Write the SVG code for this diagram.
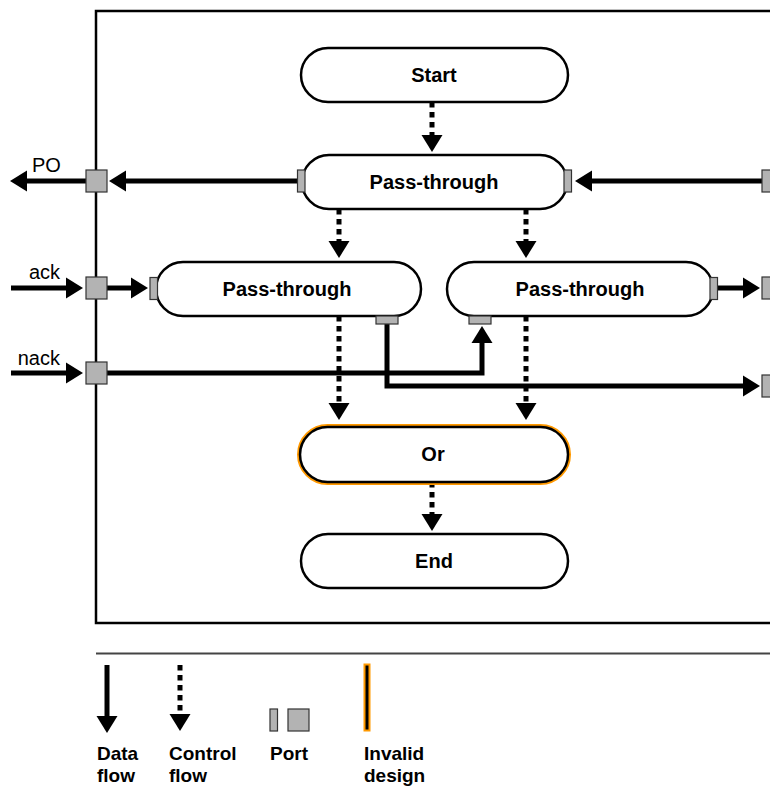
<svg xmlns="http://www.w3.org/2000/svg" width="770" height="787" viewBox="0 0 770 787">
<style>
.node{fill:#fff;stroke:#000;stroke-width:2.5}
.port{fill:#b3b3b3;stroke:#333;stroke-width:1.2}
.lbl{font-family:"Liberation Sans",Arial,sans-serif;font-size:20px;font-weight:bold;fill:#000}
.leg{font-family:"Liberation Sans",Arial,sans-serif;font-size:19px;font-weight:bold;fill:#000}
.io{font-family:"Liberation Sans",Arial,sans-serif;font-size:20px;fill:#000}
.data{fill:none;stroke:#000;stroke-width:5;marker-end:url(#ah)}
.ctrl{fill:none;stroke:#000;stroke-width:5;stroke-dasharray:5.5 4.5;marker-end:url(#ah)}
</style>
<defs>
<marker id="ah" markerUnits="userSpaceOnUse" markerWidth="17" markerHeight="21" refX="0" refY="10.5" orient="auto" overflow="visible">
<path d="M0,0 L17,10.5 L0,21 z" fill="#000"/>
</marker>
</defs>
<rect width="770" height="787" fill="#fff"/>
<g id="frame">
<rect x="96" y="11" width="680" height="612" fill="none" stroke="#000" stroke-width="2.5"/>
</g>
<g id="connectors">
<path class="ctrl" d="M432 102 V135"/>
<path class="ctrl" d="M339 209 V241"/>
<path class="ctrl" d="M526 209 V241"/>
<path class="ctrl" d="M339 316 V403"/>
<path class="ctrl" d="M526 316 V403"/>
<path class="ctrl" d="M432 482 V514"/>
<path class="data" d="M86 181 H27"/>
<path class="data" d="M297 181 H126"/>
<path class="data" d="M762 181 H592"/>
<path class="data" d="M11 288 H66"/>
<path class="data" d="M107 288 H131"/>
<path class="data" d="M718 288 H743"/>
<path class="data" d="M11 373 H66"/>
<path class="data" d="M107 373 H482 V343"/>
<path class="data" d="M387 324 V386 H743"/>
</g>
<g id="start">
<rect class="node" x="301" y="48" width="267" height="54" rx="27"/>
<text class="lbl" x="434" y="82" text-anchor="middle">Start</text>
</g>
<g id="pass1">
<rect class="node" x="302" y="155" width="265" height="54" rx="27"/>
<text class="lbl" x="434" y="189" text-anchor="middle">Pass-through</text>
<rect class="port" x="297.5" y="170" width="7.5" height="22"/>
<rect class="port" x="564" y="170" width="7.5" height="22"/>
</g>
<g id="pass2">
<rect class="node" x="156" y="262" width="265" height="54" rx="27"/>
<text class="lbl" x="287" y="296" text-anchor="middle">Pass-through</text>
<rect class="port" x="150" y="277.5" width="7.5" height="22"/>
<rect class="port" x="376" y="316" width="22" height="8"/>
</g>
<g id="pass3">
<rect class="node" x="447" y="262" width="266" height="54" rx="27"/>
<text class="lbl" x="580" y="296" text-anchor="middle">Pass-through</text>
<rect class="port" x="710" y="277.5" width="7.5" height="22"/>
<rect class="port" x="469" y="316" width="22" height="8"/>
</g>
<g id="or">
<rect x="300" y="427" width="268" height="55" rx="27.5" fill="#fff" stroke="#f90" stroke-width="6"/>
<rect class="node" x="300" y="427" width="268" height="55" rx="27.5"/>
<text class="lbl" x="433" y="461" text-anchor="middle">Or</text>
</g>
<g id="end">
<rect class="node" x="301" y="534" width="267" height="54" rx="27"/>
<text class="lbl" x="434" y="568" text-anchor="middle">End</text>
</g>
<g id="ports">
<rect class="port" x="86" y="170" width="21" height="22"/>
<rect class="port" x="86" y="277" width="21" height="22"/>
<rect class="port" x="86" y="362" width="21" height="22"/>
<rect class="port" x="762" y="170" width="21" height="22"/>
<rect class="port" x="762" y="277" width="21" height="22"/>
<rect class="port" x="762" y="375" width="21" height="22"/>
</g>
<g id="io-labels">
<text class="io" x="32" y="172">PO</text>
<text class="io" x="60" y="279" text-anchor="end">ack</text>
<text class="io" x="60" y="365" text-anchor="end">nack</text>
</g>
<g id="legend">
<line x1="96" y1="653.5" x2="770" y2="653.5" stroke="#444" stroke-width="2"/>
<path class="data" d="M107 665 V716"/>
<path class="ctrl" d="M180 665 V714"/>
<rect class="port" x="270" y="709" width="7.5" height="22"/>
<rect class="port" x="288" y="709" width="21" height="22"/>
<rect x="364.5" y="664.5" width="5" height="66" fill="#000" stroke="#f90" stroke-width="2"/>
<text class="leg" x="97" y="760">Data</text>
<text class="leg" x="97" y="782">flow</text>
<text class="leg" x="169" y="760">Control</text>
<text class="leg" x="169" y="782">flow</text>
<text class="leg" x="270" y="760">Port</text>
<text class="leg" x="364" y="760">Invalid</text>
<text class="leg" x="364" y="782">design</text>
</g>
</svg>
